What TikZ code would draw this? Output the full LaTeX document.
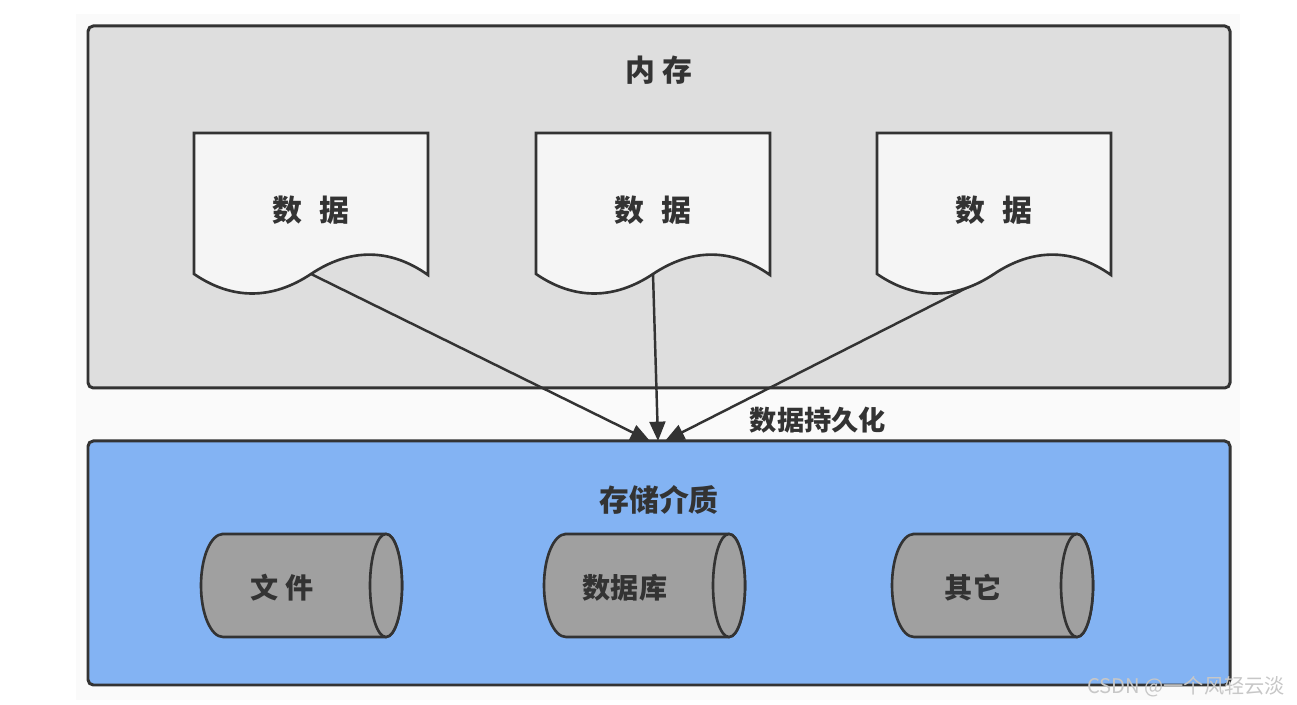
\documentclass[tikz,border=0pt]{standalone}
\usepackage{fontspec}
\setmainfont{Noto Sans CJK SC}
\usetikzlibrary{arrows.meta}
\definecolor{MemGray}{HTML}{DEDEDE}
\definecolor{StoreBlue}{HTML}{83B3F3}
\definecolor{DocWhite}{HTML}{F5F5F5}
\definecolor{DiskGray}{HTML}{A0A0A0}
\definecolor{InkGray}{HTML}{333333}
\definecolor{PageGray}{HTML}{FAFAFA}

\begin{document}
\begin{tikzpicture}[x=0.02cm,y=0.02cm,
  panel/.style={draw=InkGray,line width=1.7pt,rounded corners=3pt},
  doc/.style={draw=InkGray,fill=DocWhite,line width=1.5pt},
  disk/.style={draw=InkGray,fill=DiskGray,line width=1.5pt},
  lbl/.style={text=InkGray,font=\bfseries\fontsize{17}{20}\selectfont},
  flow/.style={draw=InkGray,line width=1.4pt,-{Triangle[length=11pt,width=9pt]}}]
\useasboundingbox (0,0) rectangle (1297,705);
\fill[PageGray] (76,5) rectangle (1240,691);
\draw[panel,fill=MemGray] (88,317) rectangle (1230,679);
\node[lbl] (mem) at (659,635) {内 存};
\draw[panel,fill=StoreBlue] (88,20) rectangle (1230,264);
\node[lbl] (storage) at (659,205) {存储介质};
\node[lbl,font=\bfseries\fontsize{15.5}{18}\selectfont] (persist) at (818,285) {数据持久化};
% arrows first, the documents cover their tails
\foreach \n/\l/\e in {1/194/650,2/536/658,3/877/665} {
  \coordinate (out\n) at (\l+117,431);
  \coordinate (in\n) at (\e,264);
}
\foreach \n in {1,2,3}
  \draw[flow] (out\n) -- (in\n);
% data documents
\foreach \n/\l in {1/194,2/536,3/877} {
  \draw[doc] (\l,572) -- (\l+234,572) -- (\l+234,430)
     .. controls (\l+196,457) and (\l+156,457) .. (\l+117,431)
     .. controls (\l+78,405) and (\l+38,405) .. (\l,431) -- cycle;
  \node[lbl] (data\n) at (\l+117,495) {数\hspace{0.6em}据};
}
% storage cylinders
\foreach \n/\l/\t in {1/201/文 件,2/544/数据库,3/892/其它} {
  \draw[disk] (\l+22,171) -- (\l+185,171)
     arc[start angle=90,end angle=-90,x radius=16,y radius=51.5]
     -- (\l+22,68)
     arc[start angle=270,end angle=90,x radius=22,y radius=51.5] -- cycle;
  \draw[disk] (\l+185,119.5) ellipse [x radius=16,y radius=51.5];
  \node[lbl,font=\bfseries\fontsize{16}{19}\selectfont] (disk\n) at (\l+81,117) {\t};
}
\node[text=black!22,font=\fontsize{11.5}{14}\selectfont] (mark) at (1186,18) {CSDN @一个风轻云淡};
\end{tikzpicture}
\end{document}
